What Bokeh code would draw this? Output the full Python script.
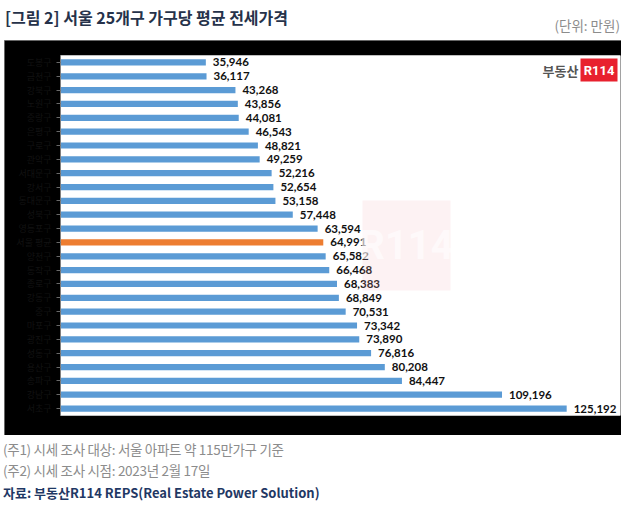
from bokeh.plotting import figure
from bokeh.models import ColumnDataSource, Div, Label, BoxAnnotation, Range1d, FactorRange
from bokeh.layouts import column
from bokeh.core.properties import value
from bokeh.embed import file_html
from bokeh.resources import INLINE

districts = ["도봉구", "금천구", "강북구", "노원구", "중랑구", "은평구", "구로구", "관악구",
             "서대문구", "강서구", "동대문구", "성북구", "영등포구", "서울 평균", "양천구", "동작구",
             "종로구", "강동구", "중구", "마포구", "광진구", "성동구", "용산구", "송파구",
             "강남구", "서초구"]
jeonse = [35946, 36117, 43268, 43856, 44081, 46543, 48821, 49259,
          52216, 52654, 53158, 57448, 63594, 64991, 65582, 66468,
          68383, 68849, 70531, 73342, 73890, 76816, 80208, 84447,
          109196, 125192]
highlight = "서울 평균"

title_text = "[그림 2] 서울 25개구 가구당 평균 전세가격"
unit_text = "(단위: 만원)"
note1 = "(주1) 시세 조사 대상: 서울 아파트 약 115만가구 기준"
note2 = "(주2) 시세 조사 시점: 2023년 2월 17일"
source_text = "자료: 부동산R114 REPS(Real Estate Power Solution)"

BLUE = "#5B9BD5"
ORANGE = "#ED7D31"
KR = "'Noto Sans CJK KR', 'Noto Sans', sans-serif"

labels = [f"{v:,}" for v in jeonse]
colors = [ORANGE if d == highlight else BLUE for d in districts]
src = ColumnDataSource(dict(d=districts, v=jeonse, t=labels, c=colors))

title_div = Div(
    width=626, height=40, margin=(0, 0, 0, 0),
    text=(f'<div style="position:relative;width:626px;height:40px;">'
          f'<span style="position:absolute;left:5px;top:5px;font-family:{KR};font-weight:bold;'
          f'font-size:16px;line-height:24px;color:#26324a;white-space:nowrap;">{title_text}</span>'
          f'<span style="position:absolute;right:6px;top:15px;font-family:{KR};'
          f'font-size:13.5px;line-height:20px;color:#8c8c8c;white-space:nowrap;">{unit_text}</span></div>'),
)

p = figure(width=617, height=395,
           y_range=FactorRange(factors=districts[::-1]),
           x_range=Range1d(0, 138500),
           output_backend="svg", toolbar_location=None, margin=(0, 0, 0, 4),
           min_border_left=56, min_border_right=1, min_border_top=15, min_border_bottom=20)
p.styles = {"outline": "1px solid #8a8a8a", "outline-offset": "-1px"}

p.hbar(y="d", left=0, right="v", height=0.45, color="c", line_color=None, source=src)
p.text(x="v", y="d", text="t", x_offset=7, text_baseline="middle",
       text_font=value("Lato"), text_font_style="bold", text_font_size="11.5px",
       text_color="#111111", source=src)

p.background_fill_color = "white"
p.border_fill_color = "black"
p.outline_line_color = None
p.xgrid.visible = False
p.ygrid.visible = False
p.xaxis.visible = False
p.yaxis.major_label_text_color = "#121212"
p.yaxis.major_label_text_font = "Noto Sans CJK KR"
p.yaxis.major_label_text_font_size = "9px"
p.yaxis.axis_line_color = "#7f7f7f"
p.yaxis.major_tick_line_color = "#6a6a6a"
p.yaxis.major_tick_out = 4
p.yaxis.major_tick_in = 0
p.yaxis.minor_tick_line_color = None

# watermark (screen units: relative to frame, y from bottom)
p.add_layout(BoxAnnotation(left=302, right=390, bottom=125, top=215,
                           left_units="screen", right_units="screen",
                           bottom_units="screen", top_units="screen",
                           fill_color="#f2b8bb", fill_alpha=0.18, line_color=None))
p.add_layout(Label(x=346, y=170, x_units="screen", y_units="screen", text="R114",
                   text_align="center", text_baseline="middle", text_color="white",
                   text_alpha=0.6, text_font_size="40px", text_font_style="bold",
                   text_font="Roboto"))
# logo
p.add_layout(BoxAnnotation(left=520, right=557, bottom=334, top=357,
                           left_units="screen", right_units="screen",
                           bottom_units="screen", top_units="screen",
                           fill_color="#E8212E", fill_alpha=1, line_color=None))
p.add_layout(Label(x=538.5, y=345.5, x_units="screen", y_units="screen", text="R114",
                   text_align="center", text_baseline="middle", text_color="white",
                   text_font_size="13px", text_font_style="bold", text_font="Roboto"))
p.add_layout(Label(x=518, y=345.5, x_units="screen", y_units="screen", text="부동산",
                   text_align="right", text_baseline="middle", text_color="#555555",
                   text_font_size="13px", text_font_style="bold", text_font="Noto Sans CJK KR"))

foot_div = Div(
    width=626, height=68, margin=(0, 0, 0, 0),
    text=(f'<div style="position:relative;width:626px;height:68px;">'
          f'<span style="position:absolute;left:3px;top:4px;font-family:{KR};letter-spacing:-0.3px;'
          f'font-size:13.5px;line-height:20px;color:#8c8c8c;white-space:nowrap;">{note1}</span>'
          f'<span style="position:absolute;left:3px;top:25px;font-family:{KR};letter-spacing:-0.3px;'
          f'font-size:13.5px;line-height:20px;color:#8c8c8c;white-space:nowrap;">{note2}</span>'
          f'<span style="position:absolute;left:3px;top:48px;font-family:{KR};font-weight:bold;'
          f'font-size:13px;line-height:20px;color:#1f3864;white-space:nowrap;">{source_text}</span></div>'),
)

layout = column(title_div, p, foot_div, spacing=0)
open("out.html", "w").write(file_html(layout, INLINE))
